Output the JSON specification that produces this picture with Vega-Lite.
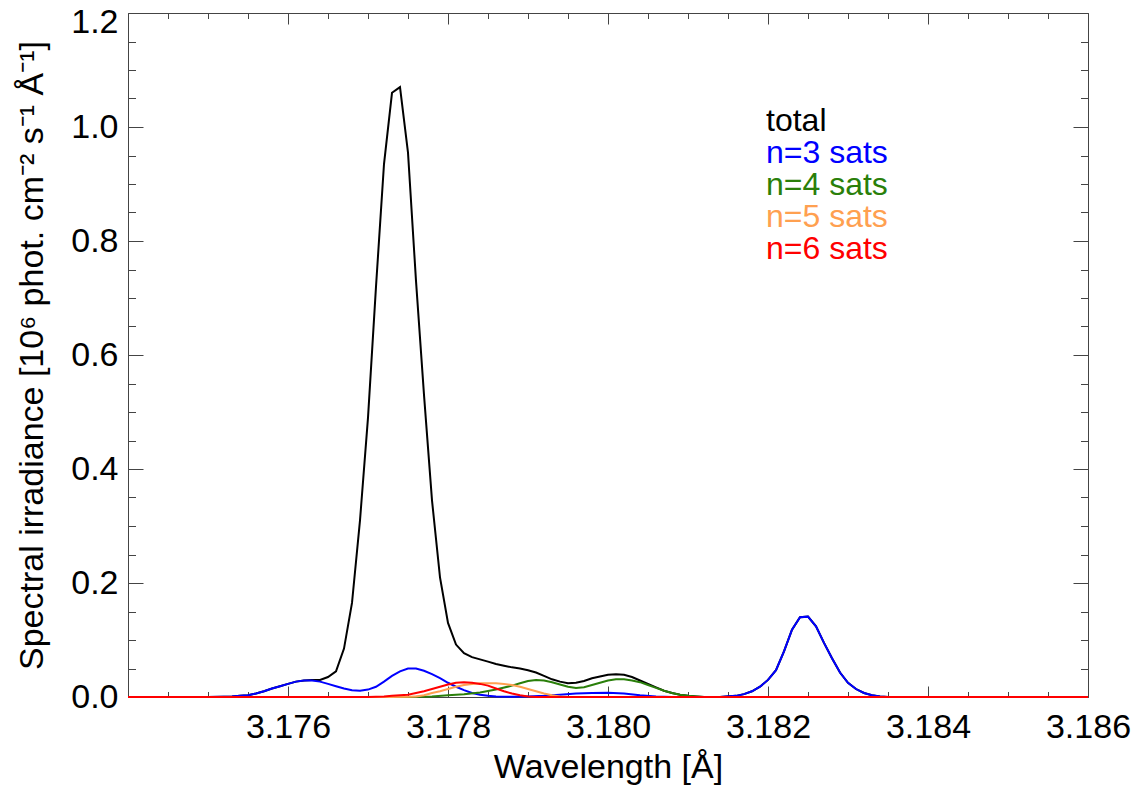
{
"$schema": "https://vega.github.io/schema/vega-lite/v6.json",
"width": 960, "height": 684,
"autosize": {"type": "none"},
"padding": {"left": 128, "top": 13, "right": 52, "bottom": 94},
"background": "white",
"config": {
  "view": {"stroke": "#444", "strokeWidth": 1},
  "font": "Liberation Sans",
  "axis": {"labelFont": "Liberation Sans", "titleFont": "Liberation Sans", "labelFontSize": 34, "titleFontSize": 34, "labelColor": "#000", "titleColor": "#000", "titleFontWeight": "normal", "grid": false, "domain": false, "tickColor": "#444", "tickWidth": 1, "labelFlush": false, "labelOverlap": false},
  "legend": {"orient": "none", "legendX": 606, "legendY": 92, "labelFont": "Liberation Sans", "labelFontSize": 32, "symbolSize": 0, "symbolStrokeWidth": 0, "symbolOpacity": 0, "labelOffset": 0, "rowPadding": 0, "padding": 0, "labelLimit": 400}
},
"data": {"values": [
{"wavelength":3.174,"irradiance":0,"series":"total"},
{"wavelength":3.175,"irradiance":0,"series":"total"},
{"wavelength":3.1752,"irradiance":0.0005,"series":"total"},
{"wavelength":3.1753,"irradiance":0.001,"series":"total"},
{"wavelength":3.1754,"irradiance":0.002,"series":"total"},
{"wavelength":3.1755,"irradiance":0.003,"series":"total"},
{"wavelength":3.1756,"irradiance":0.006,"series":"total"},
{"wavelength":3.1757,"irradiance":0.010,"series":"total"},
{"wavelength":3.1758,"irradiance":0.015,"series":"total"},
{"wavelength":3.1759,"irradiance":0.019,"series":"total"},
{"wavelength":3.176,"irradiance":0.023,"series":"total"},
{"wavelength":3.1761,"irradiance":0.027,"series":"total"},
{"wavelength":3.1762,"irradiance":0.029,"series":"total"},
{"wavelength":3.1763,"irradiance":0.030,"series":"total"},
{"wavelength":3.1764,"irradiance":0.030,"series":"total"},
{"wavelength":3.1765,"irradiance":0.035,"series":"total"},
{"wavelength":3.1766,"irradiance":0.045,"series":"total"},
{"wavelength":3.1767,"irradiance":0.085,"series":"total"},
{"wavelength":3.1768,"irradiance":0.165,"series":"total"},
{"wavelength":3.1769,"irradiance":0.31,"series":"total"},
{"wavelength":3.177,"irradiance":0.49,"series":"total"},
{"wavelength":3.1771,"irradiance":0.72,"series":"total"},
{"wavelength":3.1772,"irradiance":0.935,"series":"total"},
{"wavelength":3.1773,"irradiance":1.06,"series":"total"},
{"wavelength":3.1774,"irradiance":1.07,"series":"total"},
{"wavelength":3.1775,"irradiance":0.955,"series":"total"},
{"wavelength":3.1776,"irradiance":0.73,"series":"total"},
{"wavelength":3.1777,"irradiance":0.53,"series":"total"},
{"wavelength":3.1778,"irradiance":0.345,"series":"total"},
{"wavelength":3.1779,"irradiance":0.21,"series":"total"},
{"wavelength":3.178,"irradiance":0.13,"series":"total"},
{"wavelength":3.1781,"irradiance":0.092,"series":"total"},
{"wavelength":3.1782,"irradiance":0.077,"series":"total"},
{"wavelength":3.1783,"irradiance":0.070,"series":"total"},
{"wavelength":3.1784,"irradiance":0.066,"series":"total"},
{"wavelength":3.1785,"irradiance":0.062,"series":"total"},
{"wavelength":3.1786,"irradiance":0.058,"series":"total"},
{"wavelength":3.1787,"irradiance":0.055,"series":"total"},
{"wavelength":3.1788,"irradiance":0.052,"series":"total"},
{"wavelength":3.1789,"irradiance":0.050,"series":"total"},
{"wavelength":3.179,"irradiance":0.047,"series":"total"},
{"wavelength":3.1791,"irradiance":0.043,"series":"total"},
{"wavelength":3.1792,"irradiance":0.037,"series":"total"},
{"wavelength":3.1793,"irradiance":0.031,"series":"total"},
{"wavelength":3.1794,"irradiance":0.027,"series":"total"},
{"wavelength":3.1795,"irradiance":0.024,"series":"total"},
{"wavelength":3.1796,"irradiance":0.025,"series":"total"},
{"wavelength":3.1797,"irradiance":0.028,"series":"total"},
{"wavelength":3.1798,"irradiance":0.033,"series":"total"},
{"wavelength":3.1799,"irradiance":0.036,"series":"total"},
{"wavelength":3.18,"irradiance":0.039,"series":"total"},
{"wavelength":3.1801,"irradiance":0.040,"series":"total"},
{"wavelength":3.1802,"irradiance":0.039,"series":"total"},
{"wavelength":3.1803,"irradiance":0.035,"series":"total"},
{"wavelength":3.1804,"irradiance":0.029,"series":"total"},
{"wavelength":3.1805,"irradiance":0.023,"series":"total"},
{"wavelength":3.1806,"irradiance":0.017,"series":"total"},
{"wavelength":3.1807,"irradiance":0.011,"series":"total"},
{"wavelength":3.1808,"irradiance":0.007,"series":"total"},
{"wavelength":3.1809,"irradiance":0.004,"series":"total"},
{"wavelength":3.181,"irradiance":0.002,"series":"total"},
{"wavelength":3.1811,"irradiance":0.001,"series":"total"},
{"wavelength":3.1812,"irradiance":0,"series":"total"},
{"wavelength":3.1814,"irradiance":0,"series":"total"},
{"wavelength":3.1816,"irradiance":0.002,"series":"total"},
{"wavelength":3.1817,"irradiance":0.005,"series":"total"},
{"wavelength":3.1818,"irradiance":0.010,"series":"total"},
{"wavelength":3.1819,"irradiance":0.018,"series":"total"},
{"wavelength":3.182,"irradiance":0.030,"series":"total"},
{"wavelength":3.1821,"irradiance":0.047,"series":"total"},
{"wavelength":3.1822,"irradiance":0.080,"series":"total"},
{"wavelength":3.1823,"irradiance":0.118,"series":"total"},
{"wavelength":3.1824,"irradiance":0.140,"series":"total"},
{"wavelength":3.1825,"irradiance":0.141,"series":"total"},
{"wavelength":3.1826,"irradiance":0.124,"series":"total"},
{"wavelength":3.1827,"irradiance":0.095,"series":"total"},
{"wavelength":3.1828,"irradiance":0.068,"series":"total"},
{"wavelength":3.1829,"irradiance":0.043,"series":"total"},
{"wavelength":3.183,"irradiance":0.025,"series":"total"},
{"wavelength":3.1831,"irradiance":0.014,"series":"total"},
{"wavelength":3.1832,"irradiance":0.007,"series":"total"},
{"wavelength":3.1833,"irradiance":0.003,"series":"total"},
{"wavelength":3.1834,"irradiance":0.001,"series":"total"},
{"wavelength":3.1835,"irradiance":0,"series":"total"},
{"wavelength":3.186,"irradiance":0,"series":"total"},

{"wavelength":3.174,"irradiance":0,"series":"n=3 sats"},
{"wavelength":3.175,"irradiance":0,"series":"n=3 sats"},
{"wavelength":3.1752,"irradiance":0.0005,"series":"n=3 sats"},
{"wavelength":3.1753,"irradiance":0.001,"series":"n=3 sats"},
{"wavelength":3.1754,"irradiance":0.002,"series":"n=3 sats"},
{"wavelength":3.1755,"irradiance":0.003,"series":"n=3 sats"},
{"wavelength":3.1756,"irradiance":0.006,"series":"n=3 sats"},
{"wavelength":3.1757,"irradiance":0.010,"series":"n=3 sats"},
{"wavelength":3.1758,"irradiance":0.015,"series":"n=3 sats"},
{"wavelength":3.1759,"irradiance":0.019,"series":"n=3 sats"},
{"wavelength":3.176,"irradiance":0.023,"series":"n=3 sats"},
{"wavelength":3.1761,"irradiance":0.027,"series":"n=3 sats"},
{"wavelength":3.1762,"irradiance":0.029,"series":"n=3 sats"},
{"wavelength":3.1763,"irradiance":0.029,"series":"n=3 sats"},
{"wavelength":3.1764,"irradiance":0.027,"series":"n=3 sats"},
{"wavelength":3.1765,"irradiance":0.023,"series":"n=3 sats"},
{"wavelength":3.1766,"irradiance":0.019,"series":"n=3 sats"},
{"wavelength":3.1767,"irradiance":0.015,"series":"n=3 sats"},
{"wavelength":3.1768,"irradiance":0.012,"series":"n=3 sats"},
{"wavelength":3.1769,"irradiance":0.011,"series":"n=3 sats"},
{"wavelength":3.177,"irradiance":0.013,"series":"n=3 sats"},
{"wavelength":3.1771,"irradiance":0.018,"series":"n=3 sats"},
{"wavelength":3.1772,"irradiance":0.027,"series":"n=3 sats"},
{"wavelength":3.1773,"irradiance":0.037,"series":"n=3 sats"},
{"wavelength":3.1774,"irradiance":0.045,"series":"n=3 sats"},
{"wavelength":3.1775,"irradiance":0.050,"series":"n=3 sats"},
{"wavelength":3.1776,"irradiance":0.050,"series":"n=3 sats"},
{"wavelength":3.1777,"irradiance":0.046,"series":"n=3 sats"},
{"wavelength":3.1778,"irradiance":0.040,"series":"n=3 sats"},
{"wavelength":3.1779,"irradiance":0.033,"series":"n=3 sats"},
{"wavelength":3.178,"irradiance":0.025,"series":"n=3 sats"},
{"wavelength":3.1781,"irradiance":0.018,"series":"n=3 sats"},
{"wavelength":3.1782,"irradiance":0.012,"series":"n=3 sats"},
{"wavelength":3.1783,"irradiance":0.007,"series":"n=3 sats"},
{"wavelength":3.1784,"irradiance":0.004,"series":"n=3 sats"},
{"wavelength":3.1785,"irradiance":0.002,"series":"n=3 sats"},
{"wavelength":3.1786,"irradiance":0.001,"series":"n=3 sats"},
{"wavelength":3.1788,"irradiance":0.0005,"series":"n=3 sats"},
{"wavelength":3.179,"irradiance":0.001,"series":"n=3 sats"},
{"wavelength":3.1792,"irradiance":0.002,"series":"n=3 sats"},
{"wavelength":3.1794,"irradiance":0.004,"series":"n=3 sats"},
{"wavelength":3.1796,"irradiance":0.006,"series":"n=3 sats"},
{"wavelength":3.1798,"irradiance":0.007,"series":"n=3 sats"},
{"wavelength":3.18,"irradiance":0.0075,"series":"n=3 sats"},
{"wavelength":3.1802,"irradiance":0.006,"series":"n=3 sats"},
{"wavelength":3.1804,"irradiance":0.003,"series":"n=3 sats"},
{"wavelength":3.1806,"irradiance":0.001,"series":"n=3 sats"},
{"wavelength":3.1808,"irradiance":0,"series":"n=3 sats"},
{"wavelength":3.1814,"irradiance":0,"series":"n=3 sats"},
{"wavelength":3.1816,"irradiance":0.002,"series":"n=3 sats"},
{"wavelength":3.1817,"irradiance":0.005,"series":"n=3 sats"},
{"wavelength":3.1818,"irradiance":0.010,"series":"n=3 sats"},
{"wavelength":3.1819,"irradiance":0.018,"series":"n=3 sats"},
{"wavelength":3.182,"irradiance":0.030,"series":"n=3 sats"},
{"wavelength":3.1821,"irradiance":0.047,"series":"n=3 sats"},
{"wavelength":3.1822,"irradiance":0.080,"series":"n=3 sats"},
{"wavelength":3.1823,"irradiance":0.118,"series":"n=3 sats"},
{"wavelength":3.1824,"irradiance":0.140,"series":"n=3 sats"},
{"wavelength":3.1825,"irradiance":0.141,"series":"n=3 sats"},
{"wavelength":3.1826,"irradiance":0.124,"series":"n=3 sats"},
{"wavelength":3.1827,"irradiance":0.095,"series":"n=3 sats"},
{"wavelength":3.1828,"irradiance":0.068,"series":"n=3 sats"},
{"wavelength":3.1829,"irradiance":0.043,"series":"n=3 sats"},
{"wavelength":3.183,"irradiance":0.025,"series":"n=3 sats"},
{"wavelength":3.1831,"irradiance":0.014,"series":"n=3 sats"},
{"wavelength":3.1832,"irradiance":0.007,"series":"n=3 sats"},
{"wavelength":3.1833,"irradiance":0.003,"series":"n=3 sats"},
{"wavelength":3.1834,"irradiance":0.001,"series":"n=3 sats"},
{"wavelength":3.1835,"irradiance":0,"series":"n=3 sats"},
{"wavelength":3.186,"irradiance":0,"series":"n=3 sats"},

{"wavelength":3.174,"irradiance":0,"series":"n=4 sats"},
{"wavelength":3.1775,"irradiance":0,"series":"n=4 sats"},
{"wavelength":3.1778,"irradiance":0.001,"series":"n=4 sats"},
{"wavelength":3.178,"irradiance":0.003,"series":"n=4 sats"},
{"wavelength":3.1782,"irradiance":0.005,"series":"n=4 sats"},
{"wavelength":3.1784,"irradiance":0.008,"series":"n=4 sats"},
{"wavelength":3.1786,"irradiance":0.013,"series":"n=4 sats"},
{"wavelength":3.1788,"irradiance":0.020,"series":"n=4 sats"},
{"wavelength":3.1789,"irradiance":0.024,"series":"n=4 sats"},
{"wavelength":3.179,"irradiance":0.028,"series":"n=4 sats"},
{"wavelength":3.1791,"irradiance":0.030,"series":"n=4 sats"},
{"wavelength":3.1792,"irradiance":0.029,"series":"n=4 sats"},
{"wavelength":3.1793,"irradiance":0.026,"series":"n=4 sats"},
{"wavelength":3.1794,"irradiance":0.022,"series":"n=4 sats"},
{"wavelength":3.1795,"irradiance":0.018,"series":"n=4 sats"},
{"wavelength":3.1796,"irradiance":0.016,"series":"n=4 sats"},
{"wavelength":3.1797,"irradiance":0.017,"series":"n=4 sats"},
{"wavelength":3.1798,"irradiance":0.021,"series":"n=4 sats"},
{"wavelength":3.1799,"irradiance":0.025,"series":"n=4 sats"},
{"wavelength":3.18,"irradiance":0.029,"series":"n=4 sats"},
{"wavelength":3.1801,"irradiance":0.031,"series":"n=4 sats"},
{"wavelength":3.1802,"irradiance":0.031,"series":"n=4 sats"},
{"wavelength":3.1803,"irradiance":0.029,"series":"n=4 sats"},
{"wavelength":3.1804,"irradiance":0.026,"series":"n=4 sats"},
{"wavelength":3.1805,"irradiance":0.021,"series":"n=4 sats"},
{"wavelength":3.1806,"irradiance":0.016,"series":"n=4 sats"},
{"wavelength":3.1807,"irradiance":0.011,"series":"n=4 sats"},
{"wavelength":3.1808,"irradiance":0.007,"series":"n=4 sats"},
{"wavelength":3.1809,"irradiance":0.004,"series":"n=4 sats"},
{"wavelength":3.181,"irradiance":0.002,"series":"n=4 sats"},
{"wavelength":3.1811,"irradiance":0.001,"series":"n=4 sats"},
{"wavelength":3.1812,"irradiance":0,"series":"n=4 sats"},
{"wavelength":3.186,"irradiance":0,"series":"n=4 sats"},

{"wavelength":3.174,"irradiance":0,"series":"n=5 sats"},
{"wavelength":3.1773,"irradiance":0,"series":"n=5 sats"},
{"wavelength":3.1775,"irradiance":0.0006,"series":"n=5 sats"},
{"wavelength":3.1776,"irradiance":0.001,"series":"n=5 sats"},
{"wavelength":3.1777,"irradiance":0.003,"series":"n=5 sats"},
{"wavelength":3.1778,"irradiance":0.007,"series":"n=5 sats"},
{"wavelength":3.1779,"irradiance":0.010,"series":"n=5 sats"},
{"wavelength":3.178,"irradiance":0.014,"series":"n=5 sats"},
{"wavelength":3.1781,"irradiance":0.018,"series":"n=5 sats"},
{"wavelength":3.1782,"irradiance":0.021,"series":"n=5 sats"},
{"wavelength":3.1783,"irradiance":0.023,"series":"n=5 sats"},
{"wavelength":3.1784,"irradiance":0.024,"series":"n=5 sats"},
{"wavelength":3.1785,"irradiance":0.024,"series":"n=5 sats"},
{"wavelength":3.1786,"irradiance":0.024,"series":"n=5 sats"},
{"wavelength":3.1787,"irradiance":0.023,"series":"n=5 sats"},
{"wavelength":3.1788,"irradiance":0.021,"series":"n=5 sats"},
{"wavelength":3.1789,"irradiance":0.018,"series":"n=5 sats"},
{"wavelength":3.179,"irradiance":0.014,"series":"n=5 sats"},
{"wavelength":3.1791,"irradiance":0.010,"series":"n=5 sats"},
{"wavelength":3.1792,"irradiance":0.006,"series":"n=5 sats"},
{"wavelength":3.1793,"irradiance":0.003,"series":"n=5 sats"},
{"wavelength":3.1794,"irradiance":0.001,"series":"n=5 sats"},
{"wavelength":3.1795,"irradiance":0,"series":"n=5 sats"},
{"wavelength":3.186,"irradiance":0,"series":"n=5 sats"},

{"wavelength":3.174,"irradiance":0,"series":"n=6 sats"},
{"wavelength":3.177,"irradiance":0,"series":"n=6 sats"},
{"wavelength":3.1772,"irradiance":0.001,"series":"n=6 sats"},
{"wavelength":3.1773,"irradiance":0.002,"series":"n=6 sats"},
{"wavelength":3.1774,"irradiance":0.003,"series":"n=6 sats"},
{"wavelength":3.1775,"irradiance":0.004,"series":"n=6 sats"},
{"wavelength":3.1776,"irradiance":0.007,"series":"n=6 sats"},
{"wavelength":3.1777,"irradiance":0.010,"series":"n=6 sats"},
{"wavelength":3.1778,"irradiance":0.014,"series":"n=6 sats"},
{"wavelength":3.1779,"irradiance":0.018,"series":"n=6 sats"},
{"wavelength":3.178,"irradiance":0.022,"series":"n=6 sats"},
{"wavelength":3.1781,"irradiance":0.025,"series":"n=6 sats"},
{"wavelength":3.1782,"irradiance":0.026,"series":"n=6 sats"},
{"wavelength":3.1783,"irradiance":0.025,"series":"n=6 sats"},
{"wavelength":3.1784,"irradiance":0.023,"series":"n=6 sats"},
{"wavelength":3.1785,"irradiance":0.020,"series":"n=6 sats"},
{"wavelength":3.1786,"irradiance":0.015,"series":"n=6 sats"},
{"wavelength":3.1787,"irradiance":0.010,"series":"n=6 sats"},
{"wavelength":3.1788,"irradiance":0.006,"series":"n=6 sats"},
{"wavelength":3.1789,"irradiance":0.003,"series":"n=6 sats"},
{"wavelength":3.179,"irradiance":0.001,"series":"n=6 sats"},
{"wavelength":3.1791,"irradiance":0,"series":"n=6 sats"},
{"wavelength":3.186,"irradiance":0,"series":"n=6 sats"}
]},
"layer": [
 {
  "mark": {"type": "line", "strokeWidth": 2},
  "transform": [{"filter": "datum.series === 'total'"}],
  "encoding": {
   "x": {"field": "wavelength", "type": "quantitative", "scale": {"domain": [3.174, 3.186], "nice": false, "zero": false},
     "axis": {"orient": "bottom", "values": [3.176, 3.178, 3.18, 3.182, 3.184, 3.186], "format": ".3f", "ticks": false, "labelPadding": 13, "title": "Wavelength [Å]", "titlePadding": 6}},
   "y": {"field": "irradiance", "type": "quantitative", "scale": {"domain": [0, 1.2], "nice": false, "zero": true},
     "axis": {"orient": "left", "values": [0, 0.2, 0.4, 0.6, 0.8, 1.0, 1.2], "format": ".1f", "ticks": false, "labelPadding": 10, "title": "Spectral irradiance [10⁶ phot. cm⁻² s⁻¹ Å⁻¹]", "titlePadding": 21,
       "labelOffset": {"condition": {"test": "datum.value > 1.15", "value": 9}, "value": 0}}},
   "color": {"field": "series", "type": "nominal", "title": null,
     "scale": {"domain": ["total", "n=3 sats", "n=4 sats", "n=5 sats", "n=6 sats"], "range": ["#000000", "#0000ff", "#2a7f0a", "#ffa050", "#ff0000"]},
     "legend": {"title": null, "encode": {"labels": {"update": {"fill": {"scale": "color", "field": "value"}}}}}}
  }
 },
 {
  "mark": {"type": "line", "strokeWidth": 2},
  "transform": [{"filter": "datum.series === 'n=3 sats'"}],
  "encoding": {
   "x": {"field": "wavelength", "type": "quantitative",
     "axis": {"orient": "bottom", "title": null, "labels": false, "values": [3.174, 3.1745, 3.175, 3.1755, 3.176, 3.1765, 3.177, 3.1775, 3.178, 3.1785, 3.179, 3.1795, 3.18, 3.1805, 3.181, 3.1815, 3.182, 3.1825, 3.183, 3.1835, 3.184, 3.1845, 3.185, 3.1855, 3.186],
       "tickSize": {"condition": {"test": "abs(datum.value*500 - round(datum.value*500)) < 0.01", "value": -11}, "value": -5.5}}},
   "y": {"field": "irradiance", "type": "quantitative",
     "axis": {"orient": "left", "title": null, "labels": false, "values": [0, 0.05, 0.1, 0.15, 0.2, 0.25, 0.3, 0.35, 0.4, 0.45, 0.5, 0.55, 0.6, 0.65, 0.7, 0.75, 0.8, 0.85, 0.9, 0.95, 1.0, 1.05, 1.1, 1.15, 1.2],
       "tickSize": {"condition": {"test": "abs(datum.value*5 - round(datum.value*5)) < 0.01", "value": -15}, "value": -7.5}}},
   "color": {"field": "series", "type": "nominal", "title": null}
  }
 },
 {
  "mark": {"type": "line", "strokeWidth": 2},
  "transform": [{"filter": "datum.series === 'n=4 sats'"}],
  "encoding": {
   "x": {"field": "wavelength", "type": "quantitative",
     "axis": {"orient": "top", "title": null, "labels": false, "values": [3.174, 3.1745, 3.175, 3.1755, 3.176, 3.1765, 3.177, 3.1775, 3.178, 3.1785, 3.179, 3.1795, 3.18, 3.1805, 3.181, 3.1815, 3.182, 3.1825, 3.183, 3.1835, 3.184, 3.1845, 3.185, 3.1855, 3.186],
       "tickSize": {"condition": {"test": "abs(datum.value*500 - round(datum.value*500)) < 0.01", "value": -11}, "value": -5.5}}},
   "y": {"field": "irradiance", "type": "quantitative",
     "axis": {"orient": "right", "title": null, "labels": false, "values": [0, 0.05, 0.1, 0.15, 0.2, 0.25, 0.3, 0.35, 0.4, 0.45, 0.5, 0.55, 0.6, 0.65, 0.7, 0.75, 0.8, 0.85, 0.9, 0.95, 1.0, 1.05, 1.1, 1.15, 1.2],
       "tickSize": {"condition": {"test": "abs(datum.value*5 - round(datum.value*5)) < 0.01", "value": -15}, "value": -7.5}}},
   "color": {"field": "series", "type": "nominal", "title": null}
  }
 },
 {
  "mark": {"type": "line", "strokeWidth": 2},
  "transform": [{"filter": "datum.series === 'n=5 sats'"}],
  "encoding": {
   "x": {"field": "wavelength", "type": "quantitative", "axis": null},
   "y": {"field": "irradiance", "type": "quantitative", "axis": null},
   "color": {"field": "series", "type": "nominal", "title": null}
  }
 },
 {
  "mark": {"type": "line", "strokeWidth": 2},
  "transform": [{"filter": "datum.series === 'n=6 sats'"}],
  "encoding": {
   "x": {"field": "wavelength", "type": "quantitative", "axis": null},
   "y": {"field": "irradiance", "type": "quantitative", "axis": null},
   "color": {"field": "series", "type": "nominal", "title": null}
  }
 }
],
"resolve": {"axis": {"x": "independent", "y": "independent"}}
}
